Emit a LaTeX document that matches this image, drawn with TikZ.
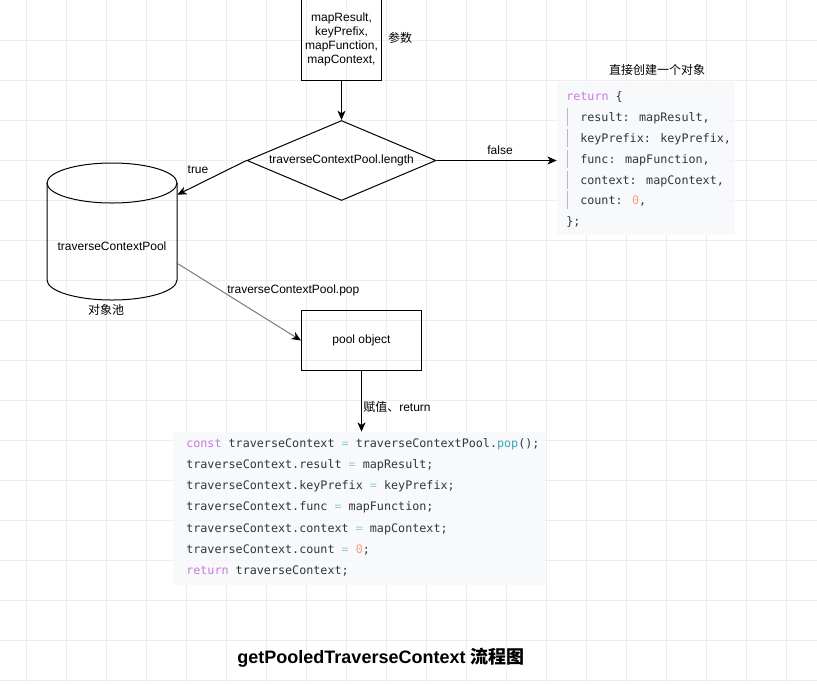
\documentclass[tikz,border=0pt]{standalone}
\usepackage{fontspec}
\setmainfont{Liberation Sans}
\newfontfamily\cjk{Noto Sans CJK SC}
\newfontfamily\codefont{DejaVu Sans Mono}
\usepackage{xcolor}
\usepackage{tikz}
\usetikzlibrary{arrows.meta,positioning,calc,shapes.geometric}

\definecolor{gridgray}{HTML}{EDEDED}
\definecolor{codebg}{HTML}{F6F8FB}
\definecolor{codefg}{HTML}{33353B}
\definecolor{kwpurple}{HTML}{C97BDC}
\definecolor{opteal}{HTML}{8CCFD6}
\definecolor{fnteal}{HTML}{3FA5B5}
\definecolor{numorange}{HTML}{F2A57A}
\definecolor{guidegray}{HTML}{B8B8B8}
\definecolor{popgray}{HTML}{7A7A7A}

\newcommand{\codekw}[1]{\textcolor{kwpurple}{#1}}
\newcommand{\codeop}[1]{\textcolor{opteal}{#1}}
\newcommand{\codefn}[1]{\textcolor{fnteal}{#1}}
\newcommand{\codenum}[1]{\textcolor{numorange}{#1}}

\begin{document}
\begin{tikzpicture}[x=0.75pt, y=-0.75pt, every node/.style={font=\fontsize{9}{10.5}\selectfont},
  flow/.style={line width=0.75pt, -{Stealth[length=7pt,width=6pt,inset=2pt]}},
  codeline/.style={anchor=base west, inner sep=0pt, text=codefg, font=\codefont\fontsize{8.8}{10}\selectfont},
  codebox/.style={fill=codebg, fill opacity=0.85, inner sep=0pt}]
\useasboundingbox (0,0) rectangle (817,683);
\fill[white] (0,0) rectangle (817,683);
% grid
\foreach \x in {0,...,19} {\draw[gridgray, line width=0.75pt] (26.7+40*\x,0) -- (26.7+40*\x,683);}
\foreach \y in {1,...,17} {\draw[gridgray, line width=0.75pt] (0,40*\y) -- (817,40*\y);}

% flow shapes
\node[draw, line width=0.75pt, minimum width={80*0.75pt}, minimum height={82*0.75pt}, align=center, inner sep=0pt] (params) at (341.5,39) {mapResult,\\keyPrefix,\\mapFunction,\\mapContext,};
\node[diamond, draw, line width=0.75pt, aspect=2.4, inner sep=0pt, minimum width={189*0.75pt}, minimum height={80*0.75pt}] (cond) at (341.5,160.5) {traverseContextPool.length};
% object pool drum
\node[minimum width={130*0.75pt}, minimum height={137*0.75pt}, inner sep=0pt] (store) at (112,231.5) {};
\draw[line width=0.75pt] (112,183) ellipse [x radius=65, y radius=20];
\draw[line width=0.75pt] (47,183) -- (47,280) arc[start angle=180, end angle=0, x radius=65, y radius=20] -- (177,183);
\node (storelabel) at (112,246) {traverseContextPool};
\node[draw, line width=0.75pt, minimum width={120*0.75pt}, minimum height={60*0.75pt}] (pool) at (361.5,340.5) {pool object};

% code blocks
\node[codebox, minimum width={178*0.75pt}, minimum height={153*0.75pt}] (objbox) at (646,158.5) {};
\node[codebox, minimum width={372*0.75pt}, minimum height={153*0.75pt}] (assignbox) at (359,508.5) {};

\node[codeline] (objopen) at (566,100) {\codekw{return} \{};
\foreach \y/\txt [count=\i] in {117/{result: mapResult,}, 138/{keyPrefix: keyPrefix,}, 159/{func: mapFunction,}, 180/{context: mapContext,}, 200/{count: \codenum{0},}} {
  \node[codeline] (field\i) at (580,\y+4) {\txt};
  \draw[guidegray, line width=0.6pt] (567,\y-9) -- (567,\y+9);
}
\node[codeline] (objclose) at (566,225) {\};};

\foreach \y/\txt [count=\i] in {443/{\codekw{const} traverseContext \codeop{=} traverseContextPool.\codefn{pop}();}, 464/{traverseContext.result \codeop{=} mapResult;}, 485/{traverseContext.keyPrefix \codeop{=} keyPrefix;}, 506/{traverseContext.func \codeop{=} mapFunction;}, 528/{traverseContext.context \codeop{=} mapContext;}, 549/{traverseContext.count \codeop{=} \codenum{0};}, 570/{\codekw{return} traverseContext;}} {
  \node[codeline] (stmt\i) at (186,\y+4) {\txt};
}

% labels
\node (paramtag) at (400,38) {\cjk 参数};
\node (objtag) at (657,70) {\cjk 直接创建一个对象};
\node (pooltag) at (106,310) {\cjk 对象池};
\node (truetag) at (198,170) {true};
\node (falsetag) at (500,150) {false};
\node[anchor=west, inner sep=0pt] (poptag) at (227,290) {traverseContextPool.pop};
\node[anchor=west, inner sep=0pt] (assigntag) at (363,407) {{\cjk 赋值、}return};
\node[font=\bfseries\fontsize{13.5}{16}\selectfont] (title) at (381,658) {getPooledTraverseContext {\cjk 流程图}};

% connectors
\draw[flow] (params) -- (cond);
\draw[flow] (cond.east) -- (cond.east -| objbox.west);
\draw[flow] (cond.west) -- ($(store.north east)+(0,32)$);
\draw[popgray, line width=0.75pt, -{Stealth[length=7pt,width=6pt,inset=2pt,color=black]}] ($(store.north east)+(-1,100)$) -- (pool.west);
\draw[flow] (pool) -- (pool.south |- assignbox.north);
\end{tikzpicture}
\end{document}
